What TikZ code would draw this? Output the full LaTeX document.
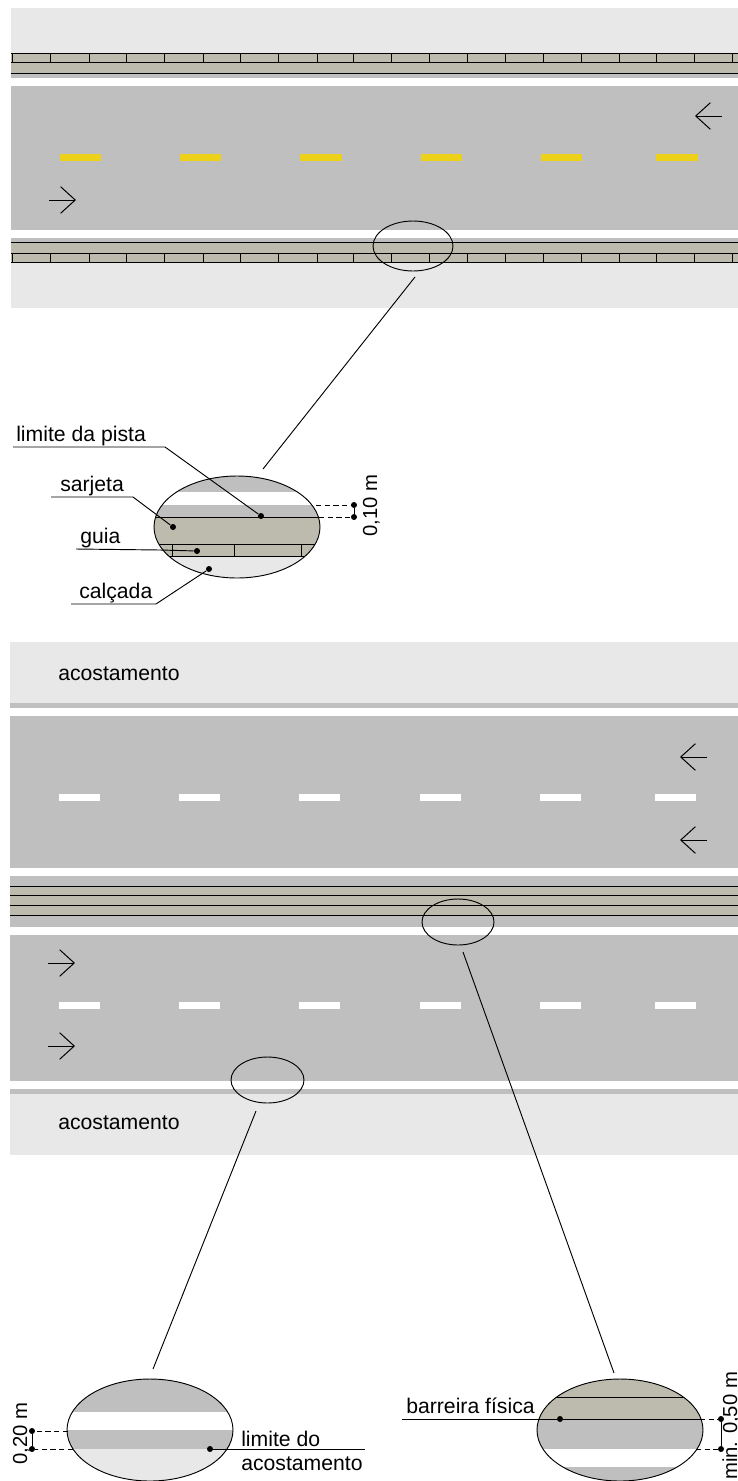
\documentclass[tikz,border=0pt]{standalone}
\usepackage{fontspec}
\setmainfont{Liberation Sans}
\usetikzlibrary{arrows.meta}

\definecolor{pista}{HTML}{BFBFBF}
\definecolor{calcada}{HTML}{E8E8E8}
\definecolor{sarjeta}{HTML}{BDBBAD}
\definecolor{amarelo}{HTML}{EDD118}

\tikzset{
  rotulo/.style={anchor=base west,inner sep=0pt,font=\fontsize{15.9}{18}\selectfont},
  rotulov/.style={anchor=base west,inner sep=0pt,rotate=90,font=\fontsize{15.2}{18}\selectfont},
  ponto/.style={circle,fill=black,inner sep=0pt,minimum size=4.5pt},
  linha/.style={line width=0.7pt},
  cota/.style={line width=0.55pt,dashed,dash pattern=on 4pt off 2.5pt},
  sentido/.style={line width=0.75pt,-{Straight Barb[length=11pt,width=20pt,line width=0.75pt]}}
}

\begin{document}
\begin{tikzpicture}[x=0.75pt,y=-0.75pt]
\useasboundingbox (0,0) rectangle (738,1481);
\fill[white] (0,0) rectangle (738,1481);

% via com guia e sarjeta
\fill[calcada] (11,8) rectangle (738,53);
\fill[sarjeta] (11,53) rectangle (738,73);
\fill[pista] (11,73) rectangle (738,78);
\fill[pista] (11,86) rectangle (738,230);
\fill[pista] (11,238) rectangle (738,242);
\fill[sarjeta] (11,242) rectangle (738,262);
\fill[calcada] (11,262) rectangle (738,308);
\draw[linha] (11,53) -- (738,53);
\draw[linha] (11,62) -- (738,62);
\draw[linha] (11,73) -- (738,73);
\draw[linha] (11,242) -- (738,242);
\draw[linha] (11,253) -- (738,253);
\draw[linha] (11,262) -- (738,262);
\foreach \xguia in {12,50,89,126,164,203,240,278,317,353,391,429,467,505,543,581,619,656,694,732} {
  \draw[linha] (\xguia,53) -- (\xguia,62);
  \draw[linha] (\xguia,253) -- (\xguia,262);
}

\fill[amarelo] (60,154) rectangle (101,161);
\fill[amarelo] (180,154) rectangle (221,161);
\fill[amarelo] (300,154) rectangle (342,161);
\fill[amarelo] (421,154) rectangle (462,161);
\fill[amarelo] (541,154) rectangle (582,161);
\fill[amarelo] (656,154) rectangle (698,161);

\draw[sentido] (722,116) -- (695,116);
\draw[sentido] (49,200) -- (76,200);

\draw[linha] (413,246) ellipse (40 and 25);
\coordinate (lupaA) at (415,277);
\coordinate (detalheA) at (263,469);
\draw[linha] (lupaA) -- (detalheA);

% detalhe da guia
\begin{scope}
\clip (237,527) ellipse (83 and 51);
\fill[pista] (150,470) rectangle (325,492);
\fill[pista] (150,505) rectangle (325,517);
\fill[sarjeta] (150,517) rectangle (325,556);
\fill[calcada] (150,556) rectangle (325,580);
\draw[linha] (150,517) -- (325,517);
\draw[linha] (150,544) -- (325,544);
\draw[linha] (150,556) -- (325,556);
\draw[linha] (172,544) -- (172,556);
\draw[linha] (234,544) -- (234,556);
\draw[linha] (301,544) -- (301,556);
\end{scope}
\draw[linha] (237,527) ellipse (83 and 51);

\node[ponto] (pPista) at (261,516) {};
\node[ponto] (pSarjeta) at (173,527) {};
\node[ponto] (pGuia) at (197,551) {};
\node[ponto] (pCalcada) at (209,569) {};
\node[rotulo] (tPista) at (16,441) {limite da pista};
\node[rotulo] (tSarjeta) at (60,491) {sarjeta};
\node[rotulo] (tGuia) at (80,543) {guia};
\node[rotulo] (tCalcada) at (79,598) {calçada};
\coordinate (a1) at (13,447);
\coordinate (a2) at (165,447);
\coordinate (b1) at (51,497);
\coordinate (b2) at (133,497);
\coordinate (c1) at (76,549);
\coordinate (c2) at (160,550);
\coordinate (d1) at (71,604);
\coordinate (d2) at (156,604);
\draw[linha] (a1) -- (a2) -- (pPista);
\draw[linha] (b1) -- (b2) -- (pSarjeta);
\draw[linha] (c1) -- (c2) -- (pGuia);
\draw[linha] (d1) -- (d2) -- (pCalcada);

\node[ponto] (cotaA1) at (354,505) {};
\node[ponto] (cotaA2) at (354,517) {};
\coordinate (e1) at (316,505);
\coordinate (e2) at (319,517);
\draw[cota] (e1) -- (cotaA1);
\draw[cota] (e2) -- (cotaA2);
\draw[linha] (cotaA1) -- (cotaA2);
\node[rotulov] (tCotaA) at (377,537) {0,10 m};

% via com acostamento e barreira
\fill[calcada] (10,642) rectangle (738,703);
\fill[pista] (10,703) rectangle (738,708);
\fill[pista] (10,716) rectangle (738,868);
\fill[pista] (10,876) rectangle (738,886);
\fill[sarjeta] (10,886) rectangle (738,915);
\fill[pista] (10,915) rectangle (738,927);
\fill[pista] (10,935) rectangle (738,1081);
\fill[pista] (10,1089) rectangle (738,1094);
\fill[calcada] (10,1094) rectangle (738,1155);
\draw[linha] (10,886) -- (738,886);
\draw[linha] (10,895) -- (738,895);
\draw[linha] (10,905) -- (738,905);
\draw[linha] (10,915) -- (738,915);

\fill[white] (59,794) rectangle (100,801);
\fill[white] (179,794) rectangle (220,801);
\fill[white] (299,794) rectangle (340,801);
\fill[white] (420,794) rectangle (461,801);
\fill[white] (540,794) rectangle (581,801);
\fill[white] (655,794) rectangle (696,801);
\fill[white] (59,1002) rectangle (100,1009);
\fill[white] (179,1002) rectangle (220,1009);
\fill[white] (299,1002) rectangle (340,1009);
\fill[white] (420,1002) rectangle (461,1009);
\fill[white] (540,1002) rectangle (581,1009);
\fill[white] (655,1002) rectangle (696,1009);

\draw[sentido] (707,757) -- (680,757);
\draw[sentido] (707,840) -- (680,840);
\draw[sentido] (48,963) -- (75,963);
\draw[sentido] (48,1046) -- (75,1046);

\node[rotulo] (tAcostA) at (58,680) {acostamento};
\node[rotulo] (tAcostB) at (58,1129) {acostamento};

\draw[linha] (458,922) ellipse (36 and 23);
\draw[linha] (267.5,1080) ellipse (36.5 and 23);
\coordinate (lupaB) at (463,952);
\coordinate (detalheB) at (614,1373);
\coordinate (lupaC) at (256,1111);
\coordinate (detalheC) at (153,1369);
\draw[linha] (lupaB) -- (detalheB);
\draw[linha] (lupaC) -- (detalheC);

% detalhe do acostamento
\begin{scope}
\clip (150,1430) ellipse (83 and 51);
\fill[pista] (60,1375) rectangle (240,1412);
\fill[pista] (60,1430) rectangle (240,1449);
\fill[calcada] (60,1449) rectangle (240,1485);
\end{scope}
\draw[linha] (150,1430) ellipse (83 and 51);

\node[ponto] (pAcost) at (210,1449) {};
\coordinate (f1) at (365,1449);
\draw[linha] (pAcost) -- (f1);
\node[rotulo] (tLimite) at (241,1446) {limite do};
\node[rotulo] (tLimiteB) at (241,1470) {acostamento};

\node[ponto] (cotaB1) at (32,1431) {};
\node[ponto] (cotaB2) at (32,1449) {};
\coordinate (g1) at (68,1431);
\coordinate (g2) at (73,1449);
\draw[cota] (g1) -- (cotaB1);
\draw[cota] (g2) -- (cotaB2);
\draw[linha] (cotaB1) -- (cotaB2);
\node[rotulov] (tCotaB) at (27,1465) {0,20 m};

% detalhe da barreira
\begin{scope}
\clip (620,1430) ellipse (83 and 51);
\fill[sarjeta] (530,1375) rectangle (710,1419);
\fill[pista] (530,1419) rectangle (710,1449);
\fill[pista] (530,1467) rectangle (710,1485);
\draw[linha] (530,1397.5) -- (710,1397.5);
\end{scope}
\draw[linha] (620,1430) ellipse (83 and 51);

\node[ponto] (pBarreira) at (560,1419) {};
\coordinate (h1) at (402,1419);
\coordinate (h2) at (700,1419);
\draw[linha] (h1) -- (pBarreira) -- (h2);
\node[rotulo] (tBarreira) at (406,1413) {barreira física};

\node[ponto] (cotaC1) at (721,1419) {};
\node[ponto] (cotaC2) at (721,1449) {};
\coordinate (i2) at (696,1449);
\draw[cota] (h2) -- (cotaC1);
\draw[cota] (i2) -- (cotaC2);
\draw[linha] (cotaC1) -- (cotaC2);
\node[rotulov] (tCotaC) at (737,1480) {min. 0,50 m};

\end{tikzpicture}
\end{document}
